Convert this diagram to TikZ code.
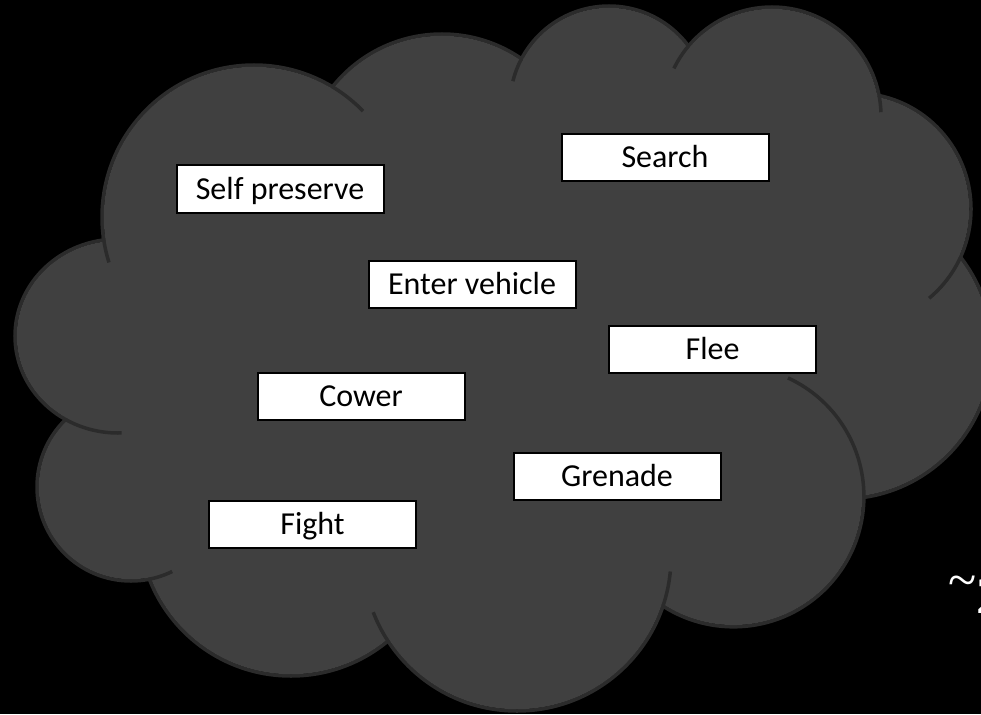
\documentclass[tikz,border=0pt]{standalone}
\usepackage{fontspec}
\setmainfont{Carlito}
\newfontfamily\notefont{Liberation Serif}
\definecolor{cloudfill}{HTML}{404040}
\definecolor{cloudline}{HTML}{2B2B2B}
\begin{document}
\begin{tikzpicture}[x=1pt,y=1pt,
  lobe line/.style={draw=cloudline, line width=3.5pt},
  stub/.style={draw=cloudline, line width=3.5pt},
  item/.style={draw=black, fill=white, line width=2pt, minimum width=207pt,
    minimum height=47pt, inner sep=0pt, text height=20.6pt, text depth=0pt,
    font=\fontsize{32}{38}\selectfont}]
\fill[black] (0,0) rectangle (981,-714);
\useasboundingbox (0,0) rectangle (981,-714);

% centres of the cloud lobes
\coordinate (UL) at (254,-217);
\coordinate (T2) at (442,-174);
\coordinate (T3) at (609,-105);
\coordinate (T4) at (772,-116);
\coordinate (R)  at (855,-209);
\coordinate (F)  at (842,-349);
\coordinate (E)  at (733.5,-496.4);
\coordinate (D)  at (517,-557);
\coordinate (C)  at (291,-524);
\coordinate (B)  at (131,-487);
\coordinate (A)  at (118,-336);

% outline of every lobe, then the fill on top leaves only the outer rim
\foreach \c/\r in {UL/152, T2/140, T3/99, T4/109, R/116, F/150, E/130.4, D/154, C/152, B/94}
  \draw[lobe line] (\c) circle[radius=\r pt];
\draw[lobe line] (A) circle[x radius=103pt, y radius=97pt];

\foreach \c/\r in {UL/152, T2/140, T3/99, T4/109, R/116, F/150, E/130.4, D/154, C/152, B/94}
  \fill[cloudfill] (\c) circle[radius={(\r-1.75)*1pt}];
\fill[cloudfill] (A) circle[x radius=101.25pt, y radius=95.25pt];
\fill[cloudfill] (UL) -- (T2) -- (T3) -- (T4) -- (R) -- (F) -- (E) -- (D) -- (C) -- (B) -- (A) -- cycle;

% inner arcs where lobes overlap
\draw[stub] (UL) ++(-172.5:152pt) arc[start angle=-172.5, end angle=-162.6, radius=152pt];
\draw[stub] (A) ++(-121:103pt and 97pt) arc[start angle=-121, end angle=-88, x radius=103pt, y radius=97pt];
\draw[stub] (B) ++(-79.4:94pt) arc[start angle=-79.4, end angle=-64, radius=94pt];
\draw[stub] (D) ++(-146.6:154pt) arc[start angle=-146.6, end angle=-159, radius=154pt];
\draw[stub] (D) ++(-18.6:154pt) arc[start angle=-18.6, end angle=-5.4, radius=154pt];
\draw[stub] (E) ++(0:130.4pt) arc[start angle=0, end angle=65.3, radius=130.4pt];
\draw[stub] (R) ++(-24.6:116pt) arc[start angle=-24.6, end angle=-50.3, radius=116pt];
\draw[stub] (T4) ++(10.6:109pt) arc[start angle=10.6, end angle=2, radius=109pt];
\draw[stub] (T4) ++(140.2:109pt) arc[start angle=140.2, end angle=154.1, radius=109pt];
\draw[stub] (T3) ++(152.1:99pt) arc[start angle=152.1, end angle=166.1, radius=99pt];
\draw[stub] (UL) ++(59:152pt) arc[start angle=59, end angle=44.2, radius=152pt];

% behaviours
\node[item] (selfpreserve) at (280,-189)   {Self preserve};
\node[item] (search)       at (665,-157.5) {Search};
\node[item] (entervehicle) at (472,-284.5) {Enter vehicle};
\node[item] (flee)         at (712.5,-349) {Flee};
\node[item] (cower)        at (361,-396)   {Cower};
\node[item] (grenade)      at (617,-476)   {Grenade};
\node[item] (fight)        at (312.5,-524.5) {Fight};

\node[text=white, font=\notefont\fontsize{52}{60}\selectfont, anchor=base west, inner sep=0pt]
  (note) at (948.5,-613) {\raisebox{16pt}{\textasciitilde}2};
\end{tikzpicture}
\end{document}
